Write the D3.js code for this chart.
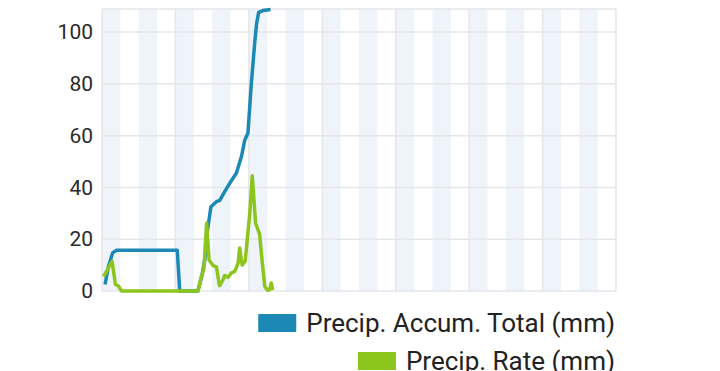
<!DOCTYPE html>
<html>
<head>
<meta charset="utf-8">
<script src="https://cdn.jsdelivr.net/npm/d3@7"></script>
<style>
  body { margin: 0; background: #fff; }
  text { font-family: Roboto, "Noto Sans", sans-serif; }
</style>
</head>
<body>
<script>
// hours since start of window
const accumHours = [1.0, 2.0, 3.5, 4.8, 24.6, 25.4, 31.3, 32.6, 33.6, 34.5, 35.6, 37.4, 38.5, 40.1, 41.8, 43.9, 45.6, 46.6, 47.7, 48.8, 49.9, 50.5, 51.2, 52.6, 55.1]
const accumValues = [2.5, 9, 14.8, 15.7, 15.7, 0, 0, 5.6, 12, 23.6, 32.5, 34.5, 35, 38.4, 41.7, 45.5, 52, 58, 61, 80, 95.6, 103, 107.6, 108.3, 108.7]

const rateHours = [0.4, 1.0, 3.3, 4.4, 5.3, 6.4, 31.4, 32.5, 33.3, 34.2, 35.0, 36.3, 37.4, 38.4, 39.6, 40.1, 41.2, 42.3, 43.4, 44.5, 45.0, 45.8, 46.8, 48.3, 49.1, 50.2, 51.5, 52.4, 53.2, 54.1, 54.8, 55.3, 55.8]
const rateValues = [5.7, 6.5, 11.5, 2.5, 2, 0, 0, 5.7, 8.3, 26.2, 12, 9.8, 9.3, 2, 4.4, 6, 5.3, 7, 7.6, 10.8, 16.6, 10, 11.5, 30, 44.5, 26.2, 22, 10.8, 1.8, 0.3, 0.5, 3.1, 0.3]

const yTicks = [0, 20, 40, 60, 80, 100]
const seriesNames = ['Precip. Accum. Total (mm)', 'Precip. Rate (mm)']
const seriesColors = ['#1b88b6', '#8cc51b']
const days = 7

const m = { width: 720, height: 371, left: 102, right: 616, top: 9, bottom: 291 }

const svg = d3.select('body').append('svg')
    .attr('width', m.width)
    .attr('height', m.height)

const x = d3.scaleLinear()
    .domain([0, days * 24])
    .range([m.left, m.right])

const y = d3.scaleLinear()
    .domain([0, d3.max(accumValues) + 0.2])
    .range([m.bottom, m.top])

// night bands, a quarter day wide
const quarters = d3.range(0, days * 4, 2)
svg.append('g').selectAll('rect')
    .data(quarters)
    .enter()
    .append('rect')
        .attr('x', d => x(d * 6))
        .attr('y', m.top)
        .attr('width', x(6) - x(0))
        .attr('height', m.bottom - m.top)
        .attr('fill', '#eef4fa')

// horizontal grid
svg.append('g').selectAll('line')
    .data(yTicks)
    .enter()
    .append('line')
        .attr('x1', m.left)
        .attr('x2', m.right)
        .attr('y1', d => y(d))
        .attr('y2', d => y(d))
        .attr('stroke', '#e4e6ea')
        .attr('stroke-width', 1.5)

// day lines
svg.append('g').selectAll('line')
    .data(d3.range(0, days + 1))
    .enter()
    .append('line')
        .attr('x1', d => x(d * 24))
        .attr('x2', d => x(d * 24))
        .attr('y1', m.top)
        .attr('y2', m.bottom)
        .attr('stroke', '#e4e6ea')
        .attr('stroke-width', 1.5)

svg.append('line')
    .attr('x1', m.left).attr('x2', m.right)
    .attr('y1', m.top).attr('y2', m.top)
    .attr('stroke', '#e4e6ea')
    .attr('stroke-width', 1.5)

// y axis labels
const yAxis = d3.axisLeft(y).tickValues(yTicks).tickSize(0).tickPadding(9)
svg.append('g')
    .attr('transform', `translate(${m.left},0)`)
    .call(yAxis)
    .call(g => g.select('.domain').remove())
    .selectAll('text')
        .attr('font-size', 21)
        .attr('fill', '#2a2a2a')
        .attr('font-family', 'Roboto, sans-serif')

const line = d3.line()
    .x(d => x(d[0]))
    .y(d => y(d[1]))

const series = [
    d3.zip(accumHours, accumValues),
    d3.zip(rateHours, rateValues)
]

svg.append('g').selectAll('path')
    .data(series)
    .enter()
    .append('path')
        .attr('d', line)
        .attr('fill', 'none')
        .attr('stroke', (d, i) => seriesColors[i])
        .attr('stroke-width', 3.5)
        .attr('stroke-linejoin', 'round')

// legend, right aligned
const legend = svg.append('g')
seriesNames.forEach(function(name, i) {
    const baseline = 332 + i * 38
    const t = legend.append('text')
        .attr('x', 615)
        .attr('y', baseline)
        .attr('text-anchor', 'end')
        .attr('font-size', 26)
        .attr('fill', '#222')
        .text(name)
    const w = t.node().getComputedTextLength()
    legend.append('rect')
        .attr('x', 615 - w - 48)
        .attr('y', baseline - 18)
        .attr('width', 38)
        .attr('height', 18)
        .attr('fill', seriesColors[i])
})
</script>
</body>
</html>
